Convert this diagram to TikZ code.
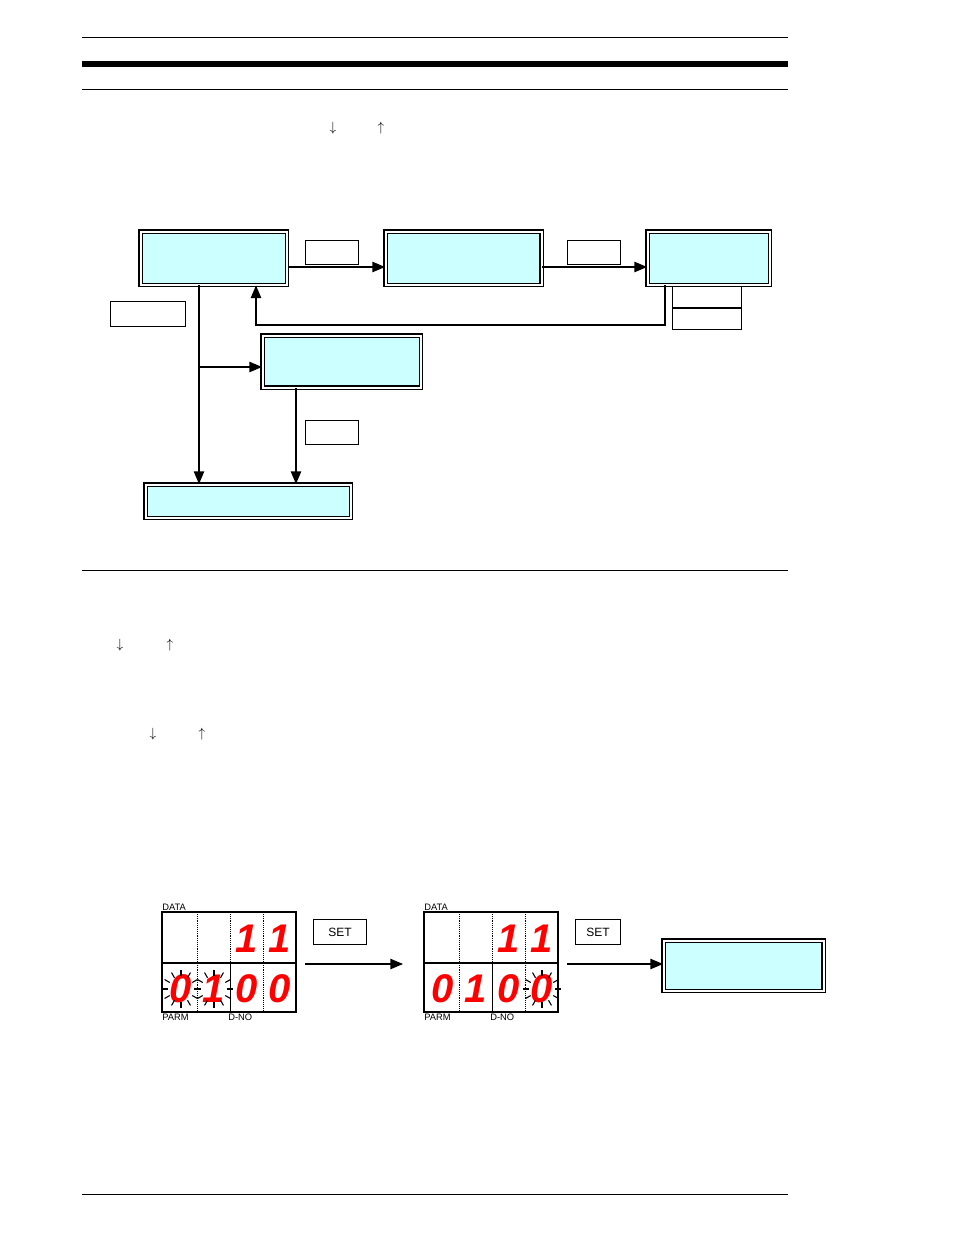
\documentclass[tikz,border=0pt]{standalone}
\usepackage{fontspec}
\setsansfont{Liberation Sans}
\usetikzlibrary{positioning,arrows}
\definecolor{lcd}{HTML}{CCFFFF}
\tikzset{stepbox/.style={draw,double,double distance=1.5pt,fill=lcd,thick,inner sep=0},
    keybox/.style={draw,fill=white,inner sep=0,font=\sffamily\small},
    flow/.style={->,>=triangle 45,very thick},
    segdigit/.style={text=red,font=\sffamily\bfseries\itshape\fontsize{30}{30}\selectfont,inner sep=0},
    tag/.style={font=\sffamily\scriptsize,inner sep=0}}
\newcommand{\rays}[2]{\foreach \a in {0,30,...,330}
    \draw[thick] ([shift={(\a:13)}]#1,#2) -- ([shift={(\a:19)}]#1,#2);}
\newcommand{\lcdpanel}[2]{%
  \draw[very thick] (#1,912) rectangle ++(134,100);
  \draw[very thick] (#1,963) -- ++(134,0);
  \draw (#1+68,963) -- ++(0,49);
  \foreach \dx in {35,68,101} \draw[densely dotted] (#1+\dx,914) -- ++(0,49);
  \foreach \dx in {35,101} \draw[densely dotted] (#1+\dx,963) -- ++(0,49);
  \node[tag,anchor=south west] (data#2) at (#1,911) {DATA};
  \node[tag,anchor=north west] (parm#2) at (#1,1014) {PARM};
  \node[tag,anchor=north west] (dno#2) at (#1+66,1014) {D-NO};
  \node[segdigit] (t1#2) at (#1+85,939) {1};
  \node[segdigit] (t2#2) at (#1+118,939) {1};
  \node[segdigit] (b1#2) at (#1+19,989) {0};
  \node[segdigit] (b2#2) at (#1+52,989) {1};
  \node[segdigit] (b3#2) at (#1+85,989) {0};
  \node[segdigit] (b4#2) at (#1+118,989) {0};}
\begin{document}
\begin{tikzpicture}[x=0.75pt,y=-0.75pt]
\useasboundingbox (0,0) rectangle (954,1235);

% rules
\draw (82,37) -- (788,37);
\draw[line width=4pt] (82,64) -- (788,64);
\draw (82,89) -- (788,89);
\draw (82,570) -- (788,570);
\draw (82,1194) -- (788,1194);

\foreach \x/\y/\s in {333/128/\downarrow,381/128/\uparrow,120/645/\downarrow,170/645/\uparrow,153/734/\downarrow,202/734/\uparrow}
    \node at (\x,\y) {$\s$};

% flow chart
\node (modeA) [stepbox,minimum width=110pt,minimum height=40pt,anchor=north west] at (140,231) {};
\node (modeB) [stepbox,minimum width=117pt,minimum height=40pt,anchor=north west] at (385,231) {};
\node (modeC) [stepbox,minimum width=92pt,minimum height=40pt,anchor=north west] at (647,231) {};
\node (modeD) [stepbox,minimum width=119pt,minimum height=39pt,anchor=north west] at (262,335) {};
\node (modeE) [stepbox,minimum width=154pt,minimum height=25pt,anchor=north west] at (145,484) {};

\node (keyAB) [keybox,minimum width=40pt,minimum height=18pt,anchor=north west] at (305,240) {};
\node (keyBC) [keybox,minimum width=40pt,minimum height=18pt,anchor=north west] at (567,240) {};
\node (keyAE) [keybox,minimum width=56pt,minimum height=19pt,anchor=north west] at (110,301) {};
\node (keyC1) [keybox,minimum width=52pt,minimum height=16pt,anchor=north west] at (672,286) {};
\node (keyC2) [keybox,minimum width=52pt,minimum height=16pt,anchor=north west] at (672,308) {};
\node (keyDE) [keybox,minimum width=40pt,minimum height=18pt,anchor=north west] at (305,420) {};

\coordinate (cback) at (665,325);
\coordinate (split) at (199,367);
\draw[flow] (modeA.east |- 0,267) -- (modeB.west |- 0,267);
\draw[flow] (modeB.east |- 0,267) -- (modeC.west |- 0,267);
\draw[flow] (modeC.south -| cback) -- (cback) -- (256,325) -- (modeA.south -| 256,0);
\draw[flow] (modeA.south -| split) -- (modeE.north -| split);
\draw[flow] (split) -- (modeD.west |- split);
\draw[flow] (modeD.south -| 296,0) -- (modeE.north -| 296,0);

% panels
\lcdpanel{162}{L}
\lcdpanel{424}{R}
\rays{181}{989}
\rays{214}{989}
\rays{542}{989}

\node (setL) [keybox,minimum width=40pt,minimum height=19pt,anchor=north west] at (313,919) {SET};
\node (setR) [keybox,minimum width=34pt,minimum height=19pt,anchor=north west] at (575,919) {SET};
\node (modeF) [stepbox,minimum width=120pt,minimum height=38pt,anchor=north west] at (663,940) {};
\coordinate (outL) at (305,964);
\coordinate (outR) at (567,964);
\draw[flow] (outL) -- (403,964);
\draw[flow] (outR) -- (modeF.west |- outR);
\end{tikzpicture}
\end{document}
